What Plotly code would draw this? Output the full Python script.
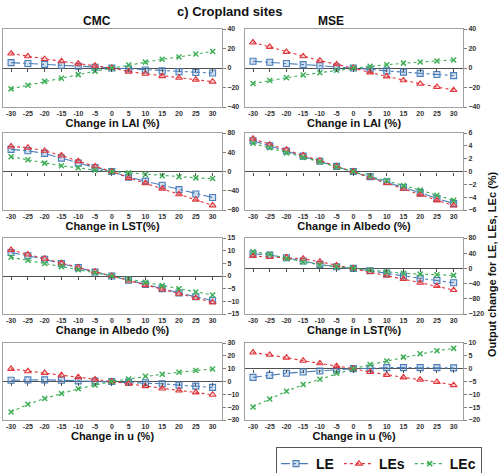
import plotly.graph_objects as go

x_vals = [-30, -25, -20, -15, -10, -5, 0, 5, 10, 15, 20, 25, 30]
x_ticks = [-30, -25, -20, -15, -10, -5, 0, 5, 10, 15, 20, 25, 30]
series_names = ["LE", "LEs", "LEc"]

# CMC - LAI
cmc_lai_le = [5.5, 4.6, 3.7, 2.8, 1.8, 0.8, 0, -1.0, -2.0, -3.0, -3.8, -4.6, -5.2]
cmc_lai_les = [14.8, 12.0, 9.2, 6.9, 4.5, 2.3, 0, -3.8, -5.9, -8.3, -10.0, -12.0, -14.0]
cmc_lai_lec = [-21.4, -17.6, -13.7, -10.5, -6.8, -3.2, 0, 3.0, 6.0, 8.9, 11.3, 14.3, 17.0]
# MSE - LAI
mse_lai_le = [6.9, 5.9, 4.6, 3.5, 2.4, 1.0, 0, -1.3, -3.0, -4.2, -5.5, -6.6, -7.8]
mse_lai_les = [26.2, 21.7, 16.5, 12.0, 7.6, 3.8, 0, -4.5, -8.6, -12.6, -16.2, -19.5, -22.6]
mse_lai_lec = [-15.9, -12.8, -10.0, -7.2, -4.8, -2.4, 0, 1.7, 3.4, 5.0, 6.2, 7.2, 8.3]
# CMC - LST
cmc_lst_le = [45.9, 43.0, 37.6, 27.8, 17.4, 8.3, 0, -11.8, -20.0, -28.5, -37.6, -46.6, -54.0]
cmc_lst_les = [52.0, 49.4, 43.0, 33.4, 21.6, 10.4, 0, -13.2, -24.3, -35.5, -47.3, -58.4, -70.3]
cmc_lst_lec = [30.6, 24.3, 17.4, 11.8, 7.6, 2.8, 0, -2.8, -6.3, -9.0, -11.1, -13.2, -14.6]
# MSE - Albedo
mse_alb_le = [4.8, 4.0, 3.2, 2.4, 1.6, 0.8, 0, -0.8, -1.6, -2.5, -3.3, -4.2, -5.0]
mse_alb_les = [5.1, 4.2, 3.4, 2.5, 1.7, 0.8, 0, -0.9, -1.8, -2.7, -3.6, -4.5, -5.3]
mse_alb_lec = [4.4, 3.7, 2.9, 2.2, 1.5, 0.7, 0, -0.7, -1.4, -2.2, -2.9, -3.7, -4.5]
# CMC - Albedo
cmc_alb_le = [9.3, 8.0, 6.6, 4.9, 3.3, 1.6, 0, -1.7, -3.3, -5.0, -6.7, -8.2, -9.7]
cmc_alb_les = [10.3, 8.5, 6.8, 5.1, 3.4, 1.7, 0, -1.8, -3.6, -5.3, -7.0, -8.7, -10.4]
cmc_alb_lec = [7.4, 6.2, 4.9, 3.7, 2.5, 1.3, 0, -1.2, -2.5, -3.8, -5.0, -6.3, -7.5]
# MSE - LST
mse_lst_le = [38.6, 35.0, 28.0, 19.3, 10.5, 4.4, 0, -6.0, -13.0, -20.0, -26.0, -32.0, -37.7]
mse_lst_les = [32.5, 30.0, 29.0, 25.4, 17.5, 7.9, 0, -9.6, -19.3, -28.0, -37.7, -46.5, -57.0]
mse_lst_lec = [43.9, 37.0, 26.3, 16.7, 8.8, 4.4, 0, -4.4, -9.6, -13.0, -15.0, -16.7, -18.4]
# CMC - u
cmc_u_le = [1.0, 1.3, 1.3, 1.0, 0.5, 0.3, 0, -0.5, -1.0, -1.8, -2.8, -3.6, -4.6]
cmc_u_les = [9.8, 8.0, 6.7, 4.9, 3.4, 1.6, 0, -1.8, -3.6, -5.4, -7.0, -8.5, -10.3]
cmc_u_lec = [-23.8, -17.8, -13.2, -9.3, -5.7, -2.8, 0, 2.0, 4.1, 5.7, 7.2, 8.5, 9.8]
# MSE - u
mse_u_le = [-3.4, -2.6, -1.8, -1.3, -0.9, -0.5, 0, 0.1, 0.4, 0.4, 0.4, 0.4, 0.3]
mse_u_les = [6.3, 5.4, 4.3, 3.1, 2.1, 1.0, 0, -1.3, -2.4, -3.4, -4.3, -5.2, -6.4]
mse_u_lec = [-14.9, -11.8, -8.8, -6.2, -4.1, -1.8, 0, 1.6, 3.0, 4.5, 5.8, 7.0, 7.9]

panel_titles = ["Change in LAI (%)", "Change in LAI (%)",
                "Change in LST(%)", "Change in Albedo (%)",
                "Change in Albedo (%)", "Change in LST(%)",
                "Change in u (%)", "Change in u (%)"]
panel_data = [
    (cmc_lai_le, cmc_lai_les, cmc_lai_lec),
    (mse_lai_le, mse_lai_les, mse_lai_lec),
    (cmc_lst_le, cmc_lst_les, cmc_lst_lec),
    (mse_alb_le, mse_alb_les, mse_alb_lec),
    (cmc_alb_le, cmc_alb_les, cmc_alb_lec),
    (mse_lst_le, mse_lst_les, mse_lst_lec),
    (cmc_u_le, cmc_u_les, cmc_u_lec),
    (mse_u_le, mse_u_les, mse_u_lec),
]
y_ranges = [(-40, 40), (-40, 40), (-80, 80), (-6, 6),
            (-15, 15), (-120, 80), (-30, 30), (-20, 10)]
y_dticks = [20, 20, 40, 2, 5, 40, 10, 5]

W, H = 500, 473
col_px = [(3, 222), (245, 463)]
row_px = [(29, 107), (133, 210), (238, 314), (343, 420)]

colors = ["#4a7ebb", "#e0373c", "#3fae57"]
fills = ["rgba(74,126,187,0.25)", "rgba(224,55,60,0.2)", "rgba(63,174,87,0.2)"]
dashes = ["dashdot", "dot", "dot"]

FONT = "Liberation Sans, Arial, sans-serif"
fig = go.Figure()
layout = {}
for i in range(8):
    r, c = divmod(i, 2)
    n = i + 1
    xa = "x" if n == 1 else f"x{n}"
    ya = "y" if n == 1 else f"y{n}"
    for k in range(3):
        sym = ["square", "triangle-up", "x-thin"][k]
        fig.add_trace(go.Scatter(
            x=x_vals, y=panel_data[i][k], xaxis=xa, yaxis=ya,
            mode="lines+markers", name=series_names[k],
            showlegend=(i == 0), legendgroup=series_names[k],
            line=dict(color=colors[k], width=1.1, dash=dashes[k]),
            marker=dict(symbol=sym, size=6 if k < 2 else 5,
                        color=fills[k] if k < 2 else colors[k],
                        line=dict(color=colors[k], width=1.1 if k < 2 else 1.5)),
        ))
    x0, x1 = col_px[c]
    yt, yb = row_px[r]
    dx = [x0 / W, x1 / W]
    dy = [1 - yb / H, 1 - yt / H]
    lo, hi = y_ranges[i]
    layout[f"xaxis{'' if n == 1 else n}"] = dict(
        domain=dx, anchor=ya, range=[-32.4, 32.8], tickvals=x_ticks,
        ticktext=[str(v) for v in x_ticks], ticks="", showgrid=False,
        zeroline=False, showline=True, linecolor="#a0a0a0", linewidth=1, mirror=True,
        automargin=False,
        tickfont=dict(size=7, family=FONT, color="#333", weight="bold"),
        title=dict(text=panel_titles[i], standoff=2,
                   font=dict(size=11, family=FONT, color="#111", weight="bold")),
    )
    layout[f"yaxis{'' if n == 1 else n}"] = dict(
        domain=dy, anchor=xa, side="right", range=[lo, hi], dtick=y_dticks[i],
        tick0=0, ticks="outside", ticklen=3, tickcolor="#808080", showgrid=False,
        zeroline=True, zerolinecolor="#505050", zerolinewidth=1,
        showline=True, linecolor="#a0a0a0", linewidth=1, mirror=True,
        automargin=False,
        tickfont=dict(size=7, family=FONT, color="#333", weight="bold"),
    )
    # tick marks along the zero line
    m = n + 8
    pos = dy[0] + (0 - lo) / (hi - lo) * (dy[1] - dy[0])
    fig.add_trace(go.Scatter(x=[None], y=[None], xaxis=f"x{m}", yaxis=ya,
                             showlegend=False, hoverinfo="skip"))
    layout[f"xaxis{m}"] = dict(
        overlaying=xa, anchor="free", position=pos, range=[-32.4, 32.8],
        tickvals=x_ticks, ticks="outside", ticklen=3, tickcolor="#505050",
        showticklabels=False, showline=False, showgrid=False, zeroline=False,
        automargin=False,
    )

fig.update_layout(**layout)


def ann(text, px, py, size, angle=0):
    return dict(text=text, x=px / W, y=1 - py / H, xref="paper", yref="paper",
                xanchor="center", yanchor="middle", showarrow=False,
                textangle=angle, font=dict(size=size, family=FONT, color="#111", weight="bold"))


fig.update_layout(
    width=W, height=H, margin=dict(l=0, r=0, t=0, b=0, autoexpand=False),
    paper_bgcolor="white", plot_bgcolor="white",
    font=dict(family=FONT, color="#111"),
    showlegend=True,
    legend=dict(orientation="h", x=482 / W, xanchor="right",
                y=1 - 447 / H, yanchor="top", itemwidth=30,
                bordercolor="#555", borderwidth=1, bgcolor="white",
                font=dict(size=14, family=FONT, color="#111", weight="bold"),
                tracegroupgap=0),
    annotations=[
        ann("c) Cropland sites", 229, 12, 13),
        ann("CMC", 97, 21, 12),
        ann("MSE", 331, 21, 12),
        ann("Output change for LE, LEs, LEc (%)", 492, 264, 11, -90),
    ],
)

post = ("document.body.style.margin='0';"
        "var d=document.getElementById('{plot_id}');"
        "d.style.position='fixed';d.style.left='0px';d.style.top='0px';")
fig.write_html("out.html", post_script=post, config={"displayModeBar": False})
